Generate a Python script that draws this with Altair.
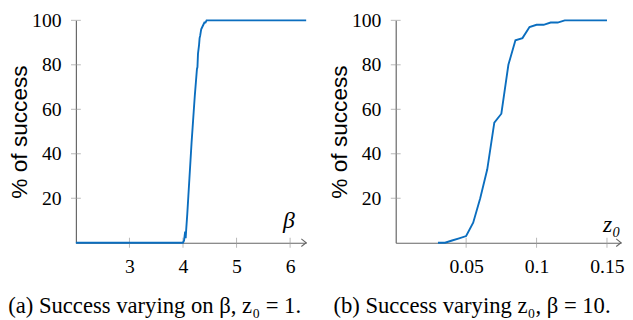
import altair as alt
import pandas as pd

# ---- data ----
beta = [2.0, 3.0, 3.98, 4.0, 4.02, 4.03, 4.04, 4.05, 4.06, 4.08, 4.1, 4.12, 4.14,
        4.16, 4.18, 4.2, 4.22, 4.24, 4.26, 4.27, 4.28, 4.3, 4.31, 4.32, 4.34,
        4.36, 4.38, 4.4, 4.42, 4.44, 4.48, 6.3]
beta_success = [0, 0, 0, 0, 1, 3, 5, 2, 6, 13, 21, 29, 37,
                45, 52, 59, 66, 72, 78, 79, 85, 89, 92, 93, 96,
                97, 98, 99, 99, 100, 100, 100]

z0 = [0.03, 0.035, 0.04, 0.045, 0.05, 0.055, 0.06, 0.065, 0.07, 0.075, 0.08,
      0.085, 0.09, 0.095, 0.1, 0.105, 0.11, 0.115, 0.12, 0.125, 0.13, 0.135,
      0.14, 0.145, 0.15]
z0_success = [0, 0, 1, 2, 3, 9, 20, 33, 54, 58, 80,
              91, 92, 97, 98, 98, 99, 99, 100, 100, 100, 100,
              100, 100, 100]

y_ticks = [20, 40, 60, 80, 100]
beta_ticks = [3, 4, 5, 6]
z0_ticks = [0.05, 0.1, 0.15]
beta_domain = [2.0, 6.3]
z0_domain = [0.0, 0.16]

y_title = "% of success"
captions = ["(a) Success varying on β, z₀ = 1.", "(b) Success varying z₀, β = 10."]
x_titles = ["β", "z₀"]

BLUE = "#0b6ebf"
AXIS = "#666666"
TICK = "#9a9a9a"
SERIF = "Liberation Serif"
SANS = "Liberation Sans"
H = 226


def panel(xs, ys, xticks, xdom, xtitle, title_x, title_y, caption, fmt, width):
    xaxis = alt.Axis(values=xticks, format=fmt, ticks=False, tickSize=0, grid=False,
                     domainColor=AXIS, domainWidth=1.2, labelFont=SERIF, labelFontSize=20,
                     labelColor="black", labelPadding=14, title=xtitle, titleX=title_x,
                     titleY=title_y, titleFont=SERIF, titleFontStyle="italic",
                     titleFontWeight="normal", titleFontSize=24, titleAlign="center",
                     titleBaseline="alphabetic", titleColor="black")
    yaxis = alt.Axis(values=y_ticks, ticks=False, tickSize=0, grid=False, domainColor=AXIS,
                     domainWidth=1.2, labelFont=SERIF, labelFontSize=20, labelColor="black",
                     labelPadding=15, title=y_title, titleX=-57, titleY=H / 2,
                     titleAngle=270, titleAlign="center", titleBaseline="middle",
                     titleFont=SANS, titleFontSize=23, titleFontWeight="normal",
                     titleColor="black")
    xs_ = alt.Scale(domain=xdom, nice=False, zero=False)
    ys_ = alt.Scale(domain=[0, 100], nice=False)
    X = alt.X("x:Q", scale=xs_, axis=xaxis)
    Y = alt.Y("y:Q", scale=ys_, axis=yaxis)

    line_df = pd.DataFrame({"x": xs, "y": ys})
    xt_df = pd.DataFrame({"x": xticks, "y": [0] * len(xticks)})
    yt_df = pd.DataFrame({"x": [xdom[0]] * len(y_ticks), "y": y_ticks})
    arrow_df = pd.DataFrame({"x": [xdom[1]], "y": [0]})

    xt = alt.Chart(xt_df).mark_tick(orient="vertical", size=10, thickness=1, color=TICK).encode(x=X, y=Y)
    yt = alt.Chart(yt_df).mark_tick(orient="horizontal", size=10, thickness=1, color=TICK).encode(x=X, y=Y)
    arrow = alt.Chart(arrow_df).mark_point(shape="M-1.4,-1.1L0,0L-1.4,1.1", filled=False,
                                           size=49, stroke=AXIS, strokeWidth=1.1,
                                           opacity=1).encode(x=X, y=Y)
    line = alt.Chart(line_df).mark_line(color=BLUE, strokeWidth=1.9, clip=False).encode(x=X, y=Y)
    return alt.layer(xt, yt, arrow, line).properties(
        width=width, height=H,
        title=alt.TitleParams(caption, orient="bottom", anchor="middle", dx=-37, offset=19,
                              font=SERIF, fontSize=23, fontWeight="normal", color="black"),
    )


left = panel(beta, beta_success, beta_ticks, beta_domain, x_titles[0], 216, -15,
             captions[0], "d", 234)
right = panel(z0, z0_success, z0_ticks, z0_domain, x_titles[1], 219, -11,
              captions[1], ".2~f", 229)

chart = alt.hconcat(left, right, spacing=19).properties(
    padding={"left": 0, "top": 0, "right": 0, "bottom": 0}
).configure_view(stroke=None)

chart.save("out.html", embed_options={"renderer": "svg", "actions": False})
